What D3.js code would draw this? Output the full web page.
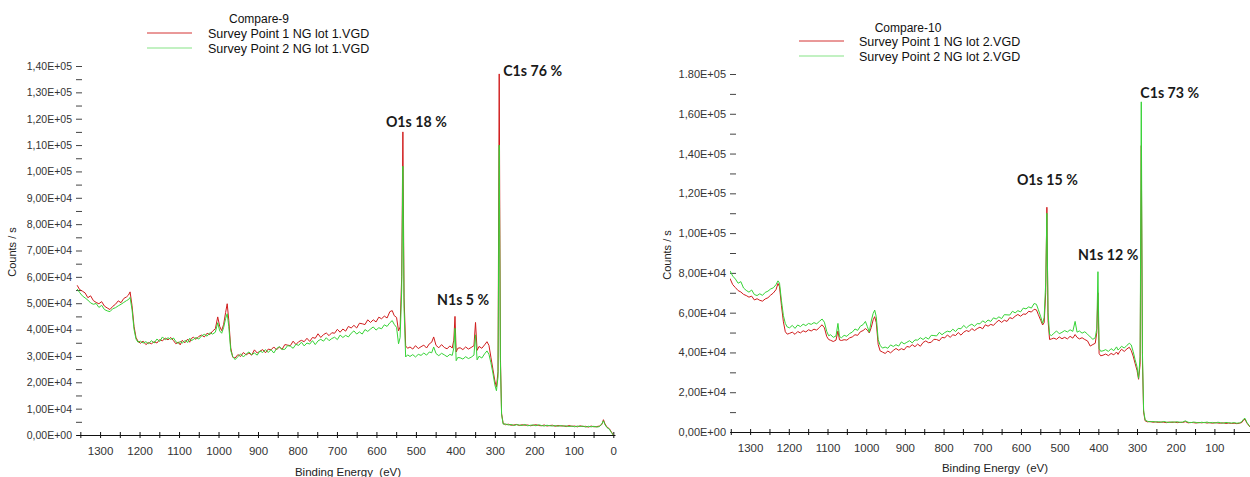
<!DOCTYPE html>
<html><head><meta charset="utf-8">
<script src="https://cdn.jsdelivr.net/npm/d3@7"></script>
<style>
html,body{margin:0;padding:0;background:#fff;}
svg{display:block;}
.tick text{font-family:"Liberation Sans Narrow","Arial Narrow","Liberation Sans",Arial,sans-serif;fill:#333;}
</style></head><body>
<svg id="c" width="1250" height="477"></svg>
<script>
// Binding energy grid (eV), shared by all four spectra
const energy = [
 1358,1352,1345,1338,1331,1324,1317,1310,1303,1296,1289,1282,1275,1268,1261,1254,1247,1240,1233,
 1228,1224,1219,1214,1209,1204,
 1198,1191,1184,1177,1170,1163,1156,1149,1142,1135,1128,1121,1114,1108,1102,1097,1092,1085,1078,1073,1069,1064,1057,1050,1043,1036,1029,1022,1015,1008,
 1002,997,992,987,982,978,974,969,964,958,
 951,944,937,930,923,916,909,902,895,888,881,874,867,860,853,846,839,832,825,818,811,804,797,790,783,776,769,762,755,748,741,734,727,720,713,706,699,692,685,678,671,664,657,650,643,636,629,622,615,608,601,594,587,580,573,566,
 560,555,549,544,540,536,533,530,526,521,
 515,508,501,494,487,480,473,466,460,455,449,442,435,428,421,414,408,
 404,401,398,394,
 388,381,374,367,360,353,349,345,340,333,326,320,315,310,305,300,296,292,
 289,286,283,279,
 273,266,259,252,245,238,231,224,217,210,203,196,189,182,175,168,161,154,147,140,133,126,119,112,105,98,91,84,77,70,63,56,49,42,35,29,25,21,16,10,5,0
];
// Counts / s in thousands
const lot1Point1 = [
 56.8,55.2,54.6,53.9,52.1,52.8,51.0,50.3,49.8,50.6,48.9,48.2,47.6,48.8,49.6,50.9,50.2,51.8,52.4,
 53.1,54.3,49.0,41.2,37.0,35.6,
 34.8,35.6,34.3,35.1,34.6,35.4,34.9,36.2,35.7,36.8,36.1,37.0,35.8,34.6,35.3,34.2,35.9,35.0,36.4,35.2,36.6,37.1,36.3,37.4,37.9,37.2,38.6,38.1,39.4,40.3,
 44.8,41.2,39.6,42.0,46.5,49.8,43.5,33.0,29.5,29.2,
 30.5,29.8,31.3,30.4,31.1,30.3,32.3,31.1,31.8,32.4,31.2,32.6,32.3,33.4,32.3,33.4,32.5,34.3,34.1,33.9,35.6,34.3,35.4,35.9,35.4,36.7,35.5,37.0,36.7,38.4,37.0,38.1,38.7,37.7,38.8,38.6,40.1,39.0,40.2,39.4,41.2,40.6,41.6,40.6,42.4,42.2,41.9,43.7,42.7,43.7,42.9,44.7,44.1,45.1,44.4,46.8,
 47.2,45.3,44.6,39.5,41.0,60.0,115.0,52.0,33.8,32.9,
 33.4,32.6,33.9,32.8,33.5,34.1,33.0,34.6,35.2,37.2,34.0,33.1,34.3,33.2,32.7,33.8,33.0,
 36.0,45.0,31.5,32.9,
 33.1,32.4,33.4,32.6,33.2,33.9,42.7,32.1,33.6,32.9,34.2,35.4,34.0,29.5,25.0,20.5,18.2,24.0,
 137.0,30.0,8.2,4.4,
 3.9,4.1,3.7,3.8,4.0,3.6,3.9,3.7,3.8,3.5,3.7,3.9,3.6,3.5,3.8,3.4,3.6,3.7,3.3,3.6,3.4,3.5,3.2,3.6,3.3,3.4,3.1,3.5,3.2,3.3,3.0,3.4,3.1,3.2,3.4,4.0,5.8,4.2,3.0,2.4,1.2,0.0
];
const lot1Point2 = [
 55.4,54.1,52.8,52.0,51.2,50.1,49.6,49.9,48.4,49.2,47.6,47.1,46.8,47.9,48.3,49.0,49.6,50.3,51.0,
 51.4,52.2,47.5,40.1,36.4,35.2,
 35.6,34.9,35.4,34.6,35.8,34.9,36.4,35.5,37.2,36.1,36.9,36.3,36.8,35.4,34.7,35.6,34.8,35.9,35.1,36.7,35.8,36.2,37.0,36.4,37.6,38.2,37.5,38.8,38.3,39.0,
 42.6,39.5,38.6,40.8,44.2,46.0,41.2,32.0,29.8,28.6,
 29.7,30.8,29.6,30.7,31.5,30.5,31.1,30.3,31.9,31.3,32.4,31.3,32.4,31.1,32.8,33.5,32.5,32.5,33.9,33.7,32.9,34.4,34.0,35.2,33.8,34.9,34.5,35.8,34.3,35.7,36.3,35.6,36.9,35.8,36.6,37.1,36.2,37.9,37.0,37.8,37.2,38.6,39.5,38.3,39.1,38.3,40.0,39.3,40.2,41.0,39.8,40.7,40.3,41.8,41.2,42.6,
 43.4,42.0,40.8,34.6,37.0,55.0,102.0,48.0,29.6,30.4,
 29.8,30.5,29.6,30.6,30.2,31.1,30.3,31.5,31.2,33.4,30.9,30.1,31.0,30.4,29.7,30.6,30.2,
 33.0,40.5,28.2,29.4,
 29.3,28.8,29.7,29.0,29.5,30.3,38.0,28.5,29.9,29.2,30.8,31.9,30.6,27.4,23.5,19.0,16.8,22.0,
 110.0,28.0,7.8,4.1,
 4.2,3.8,4.0,3.6,3.9,3.8,3.6,4.0,3.5,3.7,3.8,3.5,3.9,3.6,3.4,3.7,3.5,3.4,3.6,3.3,3.6,3.3,3.5,3.2,3.4,3.1,3.4,3.2,3.4,3.0,3.3,3.1,3.3,3.0,3.2,4.3,5.4,3.9,2.8,2.2,1.0,0.0
];
const lot2Point1 = [
 78.0,77.2,74.1,72.6,71.1,70.4,69.2,68.6,67.8,68.3,66.4,67.0,66.2,65.8,66.9,67.5,68.8,69.9,71.6,
 74.7,73.0,63.5,55.4,50.4,49.2,
 49.6,50.2,49.1,50.5,49.8,50.9,50.3,51.4,50.8,51.7,51.2,52.6,53.9,52.4,48.0,46.5,46.1,45.5,46.2,50.8,46.3,46.0,46.4,46.2,47.3,47.8,48.9,48.6,50.4,51.0,
 52.0,51.2,49.8,52.5,56.4,58.0,55.0,44.0,40.8,40.2,
 39.5,40.7,39.8,41.0,42.0,41.1,41.9,41.3,43.0,42.7,43.9,42.9,44.2,43.1,45.0,45.8,44.9,45.1,46.6,46.5,45.9,47.6,47.3,48.8,47.6,48.9,48.5,50.0,48.7,50.2,51.0,50.5,52.0,51.0,52.0,52.7,51.9,53.9,53.2,54.1,53.6,55.1,56.2,55.1,56.2,55.6,57.5,57.0,58.2,59.1,58.2,59.3,59.2,60.7,60.3,61.7,
 61.4,59.0,56.2,53.8,55.0,70.0,113.0,56.0,46.5,46.8,
 47.2,46.6,47.8,46.9,47.6,46.8,48.1,47.2,49.0,47.6,46.8,47.4,46.5,45.8,43.2,44.0,44.6,
 50.0,70.0,39.5,38.3,
 38.6,39.2,38.4,39.5,38.8,40.2,39.0,40.4,41.6,40.5,41.8,42.6,41.0,38.2,34.5,31.0,26.5,34.0,
 144.0,36.0,10.0,5.6,
 5.1,5.3,4.9,5.1,4.8,5.0,4.9,4.7,5.0,4.8,5.0,4.7,4.9,4.8,5.2,4.6,4.8,4.7,4.5,4.8,4.6,4.8,4.5,4.7,4.4,4.7,4.5,4.4,4.6,4.3,4.5,4.3,4.4,4.2,4.4,4.8,5.9,6.4,4.5,3.0,1.9,0.9
];
const lot2Point2 = [
 82.0,81.0,78.4,76.9,74.8,75.6,72.4,71.2,70.3,71.4,69.1,68.6,69.5,68.7,70.2,70.8,71.9,72.5,74.1,
 76.0,74.8,66.0,58.5,54.6,52.8,
 52.4,53.6,52.1,53.8,53.0,54.2,53.5,54.6,54.1,55.0,54.4,55.6,56.8,55.2,50.6,48.4,48.9,47.6,48.3,54.6,48.0,47.4,48.6,48.1,49.5,50.2,51.8,51.1,53.2,54.0,
 55.6,53.0,50.2,55.8,59.6,61.3,58.0,46.5,43.6,42.2,
 42.7,42.1,43.8,43.0,43.9,43.2,45.3,44.3,45.1,45.9,44.8,46.3,46.2,47.4,46.5,47.6,46.7,48.6,48.5,48.3,50.1,48.9,50.0,50.7,50.3,51.7,50.5,52.1,51.9,53.6,52.3,53.5,54.2,53.2,54.5,54.4,55.9,55.0,56.3,55.6,57.4,56.8,57.9,57.0,59.0,58.9,58.8,60.7,59.9,61.0,60.4,62.3,61.9,62.9,62.3,64.6,
 64.2,61.5,58.0,54.6,57.5,75.0,110.0,60.0,49.0,48.5,
 49.6,50.8,49.4,50.1,51.0,50.3,51.4,50.6,55.6,50.2,50.8,49.7,50.4,49.2,47.8,46.6,47.4,
 52.0,80.6,42.0,40.6,
 40.8,41.4,40.5,41.9,40.9,42.8,41.2,42.0,43.1,42.2,43.6,44.6,43.8,40.5,36.4,32.8,27.0,38.0,
 166.0,40.0,11.0,6.0,
 5.4,5.1,5.3,5.0,5.2,4.9,5.3,5.0,4.8,5.1,4.9,5.2,4.8,5.0,5.6,4.9,4.7,5.0,4.8,4.6,4.9,4.7,5.0,4.6,4.8,4.5,4.9,4.7,4.4,4.8,4.6,4.5,4.7,4.4,4.6,5.2,6.4,6.9,4.8,3.2,2.0,1.0
];

const chartTitles = ["Compare-9", "Compare-10"];
const legendLot1 = ["Survey Point 1 NG lot 1.VGD", "Survey Point 2 NG lot 1.VGD"];
const legendLot2 = ["Survey Point 1 NG lot 2.VGD", "Survey Point 2 NG lot 2.VGD"];
const xTickLabels1 = [1300,1200,1100,1000,900,800,700,600,500,400,300,200,100,0];
const xTickLabels2 = [1300,1200,1100,1000,900,800,700,600,500,400,300,200,100];
const yTickValues1 = [0,10000,20000,30000,40000,50000,60000,70000,80000,90000,100000,110000,120000,130000,140000];
const yTickLabels1 = ["0,00E+00","1,00E+04","2,00E+04","3,00E+04","4,00E+04","5,00E+04","6,00E+04","7,00E+04","8,00E+04","9,00E+04","1,00E+05","1,10E+05","1,20E+05","1,30E+05","1,40E+05"];
const yTickValues2 = [0,20000,40000,60000,80000,100000,120000,140000,160000,180000];
const yTickLabels2 = ["0,00E+00","2,00E+04","4,00E+04","6,00E+04","8,00E+04","1,00E+05","1,20E+05","1,40E+05","1,60E+05","1.80E+05"];
const peakLabels1 = [{t:"O1s 18 %", e:533, v:115000}, {t:"C1s 76 %", e:289, v:137000}, {t:"N1s 5 %", e:401, v:45000}];
const peakLabels2 = [{t:"O1s 15 %", e:533, v:113000}, {t:"C1s 73 %", e:289, v:166000}, {t:"N1s 12 %", e:401, v:80600}];

const RED = "#d01c1c", GREEN = "#36d336";
const svg = d3.select("#c");

function drawChart(cfg) {
  const g = svg.append("g");
  const x = d3.scaleLinear().domain(cfg.eDomain).range([cfg.x0, cfg.x1]);
  const y = d3.scaleLinear().domain([0, cfg.yMax]).range([cfg.yBottom, cfg.yTop]);

  const clipId = "clip" + cfg.id;
  svg.append("defs").append("clipPath").attr("id", clipId)
    .append("rect").attr("x", cfg.x0).attr("y", 0).attr("width", cfg.x1 - cfg.x0).attr("height", cfg.yBottom + 1);

  // y axis (ticks point into the plot, labels on the left)
  const minorY = d3.range(0, cfg.yMax + 1, cfg.minorStep);
  const yAxis = d3.axisLeft(y).tickValues(minorY).tickSize(-6).tickPadding(4)
    .tickFormat(v => { const i = cfg.yTickValues.indexOf(v); return i >= 0 ? cfg.yTickLabels[i] : ""; });
  const ya = g.append("g").attr("transform", `translate(${cfg.x0},0)`).call(yAxis);
  ya.select(".domain").remove();
  ya.selectAll(".tick line").attr("stroke", "#444");
  ya.selectAll(".tick text").attr("font-size", cfg.yFont);

  // x axis
  const xTicks = d3.range(1350, -1, -50).filter(v => v <= cfg.eDomain[0] && v >= cfg.eDomain[1]);
  const xAxis = d3.axisBottom(x).tickValues(xTicks).tickSizeInner(3).tickSizeOuter(0).tickPadding(9)
    .tickFormat(v => cfg.xTickLabels.includes(v) ? String(v) : "");
  const xa = g.append("g").attr("transform", `translate(0,${cfg.yBottom})`).call(xAxis);
  xa.select(".domain").attr("stroke", "#111");
  xa.selectAll(".tick line").attr("y1", -3).attr("y2", 3).attr("stroke", "#111");
  xa.selectAll(".tick text").attr("font-size", 11.5);

  // spectra
  const line = d3.line().x(d => x(d[0])).y(d => y(d[1] * 1000));
  const plot = g.append("g").attr("clip-path", `url(#${clipId})`);
  plot.append("path").datum(d3.zip(energy, cfg.s1)).attr("d", line)
    .attr("fill", "none").attr("stroke", RED).attr("stroke-width", 1);
  plot.append("path").datum(d3.zip(energy, cfg.s2)).attr("d", line)
    .attr("fill", "none").attr("stroke", GREEN).attr("stroke-width", 1);

  // axis titles
  g.append("text").attr("transform", `translate(${cfg.yTitleX},${cfg.yTitleY}) rotate(-90)`)
    .attr("text-anchor", "middle").attr("font-family", '"Liberation Sans Narrow","Liberation Sans",sans-serif')
    .attr("font-size", 11).attr("fill", "#222").text("Counts / s");
  g.append("text").attr("x", cfg.xTitleX).attr("y", cfg.xTitleY).attr("text-anchor", "middle")
    .attr("font-family", '"Liberation Sans Narrow","Liberation Sans",sans-serif')
    .attr("font-size", 11.5).attr("fill", "#222").attr("xml:space", "preserve").text("Binding Energy  (eV)");

  // title and legend
  g.append("text").attr("x", cfg.titleX).attr("y", cfg.titleY).attr("text-anchor", "middle")
    .attr("font-family", '"Liberation Sans",Arial,sans-serif').attr("font-size", 12).attr("fill", "#111").text(cfg.title);
  cfg.legend.forEach((t, i) => {
    const ly = cfg.legY + i * 15;
    g.append("line").attr("x1", cfg.legX1).attr("x2", cfg.legX2).attr("y1", ly).attr("y2", ly)
      .attr("stroke", i === 0 ? RED : GREEN).attr("stroke-width", 1).attr("opacity", i === 0 ? 0.9 : 0.6);
    g.append("text").attr("x", cfg.legTextX).attr("y", ly + 5).attr("font-family", '"Liberation Sans",Arial,sans-serif')
      .attr("font-size", 12.5).attr("fill", "#111").text(t);
  });

  // peak annotations
  cfg.peaks.forEach((p, i) => {
    const o = cfg.peakOffsets[i];
    g.append("text").attr("x", x(p.e) + o[0]).attr("y", y(p.v) + o[1])
      .attr("font-family", "Lato,'Open Sans',sans-serif").attr("font-weight", 700)
      .attr("font-size", 14.2).attr("fill", "#1a1a1a").text(p.t);
  });
}

drawChart({
  id: 1, eDomain: [1361, -4.3], x0: 76, x1: 615, yMax: 140000, yBottom: 435, yTop: 66,
  minorStep: 5000, yTickValues: yTickValues1, yTickLabels: yTickLabels1, yFont: 10.5,
  xTickLabels: xTickLabels1, s1: lot1Point1, s2: lot1Point2,
  yTitleX: 16, yTitleY: 252, xTitleX: 348, xTitleY: 476,
  title: chartTitles[0], titleX: 259, titleY: 23,
  legend: legendLot1, legY: 33, legX1: 147, legX2: 192, legTextX: 208,
  peaks: peakLabels1, peakOffsets: [[-17, -5], [4, 2], [-18, -11]]
});
drawChart({
  id: 2, eDomain: [1352, 8], x0: 730, x1: 1250, yMax: 180000, yBottom: 432, yTop: 74,
  minorStep: 10000, yTickValues: yTickValues2, yTickLabels: yTickLabels2, yFont: 11,
  xTickLabels: xTickLabels2, s1: lot2Point1, s2: lot2Point2,
  yTitleX: 671, yTitleY: 255, xTitleX: 995, xTitleY: 472,
  title: chartTitles[1], titleX: 908, titleY: 32,
  legend: legendLot2, legY: 41, legX1: 799, legX2: 844, legTextX: 859,
  peaks: peakLabels2, peakOffsets: [[-30, -22], [-1, -4], [-20, -12]]
});
</script>
</body></html>
